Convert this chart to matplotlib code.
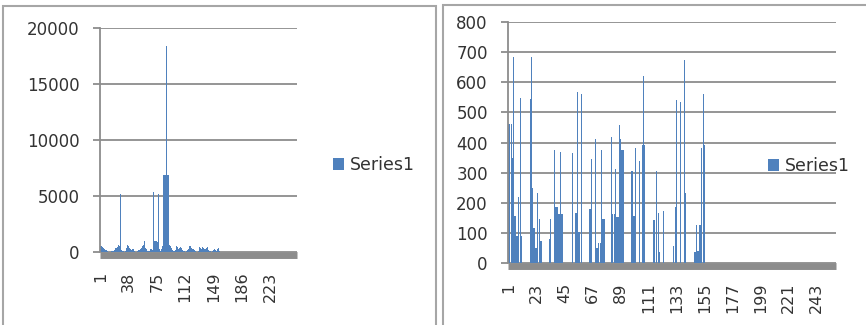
import numpy as np
import matplotlib
matplotlib.use("Agg")
import matplotlib.pyplot as plt
from matplotlib.patches import Rectangle, Patch

plt.rcParams['font.family'] = ['DejaVu Sans']

# ---- data -------------------------------------------------------------
N_CATEGORIES = 258

left_values = [
    550, 500, 480, 450,
    400, 300, 250, 200, 150,
    100, 50, 30, 0, 20, 60, 100, 80, 50,
    150, 250, 350, 400, 450, 500, 600, 550,
    5180,
    400, 200, 100, 50, 0, 30, 80,
    400, 550, 600, 500, 350,
    250, 200, 150, 250, 300,
    100, 50, 20, 0, 30, 80, 150, 200, 250,
    300, 400, 500, 600, 700,
    1000,
    400, 300, 200, 100, 50, 100, 200, 300, 250, 200, 300,
    5330,
    1000, 1000, 1000, 1000, 900,
    5180,
    300, 200, 100, 300, 500, 600,
    6850, 6850, 6850, 6850, 18400, 6850, 6850, 6850,
    600, 500, 400, 200,
    100, 50, 100, 200,
    300, 500, 450, 300, 200, 400, 450, 400, 300, 200, 100,
    50, 0, 30, 100, 200, 300,
    600, 550, 500, 400, 350,
    300, 250, 200, 100, 50, 0, 30, 100, 200,
    450, 400, 300, 350, 450, 400, 300, 200, 300, 400, 450, 350,
    200, 100, 50, 0, 0, 50, 150, 250,
    300, 200, 100, 300, 600, 400, 100, 0,
]

right_values = [
    460, 460, 460, 350, 683, 156, 90, 90, 218, 549,
    90, 0, 0, 0, 0, 0, 0, 546, 685, 250,
    115, 49, 49, 234, 145, 74, 74, 0, 0, 0,
    0, 0, 79, 146, 0, 0, 375, 187, 187, 162,
    162, 369, 162, 0, 0, 0, 0, 0, 0, 0,
    364, 0, 0, 165, 566, 104, 104, 561, 0, 0,
    0, 0, 0, 0, 180, 344, 0, 0, 412, 49,
    49, 68, 68, 375, 147, 147, 0, 0, 0, 0,
    0, 417, 162, 162, 312, 154, 154, 457, 412, 375,
    375, 0, 0, 0, 0, 0, 0, 307, 157, 157,
    381, 0, 0, 339, 0, 391, 621, 391, 0, 0,
    0, 0, 0, 0, 143, 143, 307, 0, 167, 38,
    0, 0, 171, 0, 0, 0, 0, 0, 0, 0,
    56, 187, 541, 0, 0, 535, 0, 0, 674, 234,
    0, 0, 0, 0, 0, 0, 38, 38, 125, 40,
    125, 125, 381, 561, 391,
]

left_yticks = [0, 5000, 10000, 15000, 20000]
right_yticks = [0, 100, 200, 300, 400, 500, 600, 700, 800]
left_xtick_step = 37
right_xtick_step = 22
series_name = "Series1"

# ---- styling ----------------------------------------------------------
BAR = '#4F81BD'
GRID = '#8c8c8c'
FLOOR = '#8c8c8c'
TEXT = '#333333'
W, H = 866, 325

fig = plt.figure(figsize=(W / 100, H / 100), dpi=100)
fig.patch.set_facecolor('white')


def px_axes(x0, x1, ytop, ybot):
    return fig.add_axes([x0 / W, (H - ybot) / H, (x1 - x0) / W, (ybot - ytop) / H])


def style(ax, values, yticks, step, bar_width):
    cats = np.arange(1, len(values) + 1)
    ax.bar(cats, values, width=bar_width, color=BAR, linewidth=0, zorder=2)
    ax.set_xlim(0.5, N_CATEGORIES + 0.5)
    ax.set_ylim(yticks[0], yticks[-1])
    ax.set_yticks(yticks)
    xt = np.arange(1, N_CATEGORIES + 1, step)
    ax.set_xticks(xt)
    ax.set_xticklabels([str(v) for v in xt])
    ax.set_axisbelow(True)
    ax.yaxis.grid(True, color=GRID, linewidth=1.3)
    for s in ('top', 'right'):
        ax.spines[s].set_visible(False)
    ax.spines['left'].set_color(GRID)
    ax.spines['left'].set_linewidth(1.3)
    sp = ax.spines['bottom']
    sp.set_position(('outward', 2.5))
    sp.set_linewidth(5)
    sp.set_color(FLOOR)
    sp.set_capstyle('butt')
    ax.tick_params(axis='x', length=0, pad=11.5, labelsize=11.5,
                   labelrotation=90, labelcolor=TEXT)
    ax.tick_params(axis='y', length=5, width=1.3, color=GRID, pad=9.5,
                   labelsize=12, labelcolor=TEXT, direction='out')
    ax.set_facecolor('white')


# panel frames
fig.add_artist(Rectangle((3 / W, -0.1), (436 - 3) / W, (H - 6) / H + 0.1,
                         transform=fig.transFigure, fill=False,
                         edgecolor='#a6a6a6', linewidth=1.5))
fig.add_artist(Rectangle((443 / W, -0.1), 1.0, (H - 5) / H + 0.1,
                         transform=fig.transFigure, fill=False,
                         edgecolor='#a6a6a6', linewidth=1.5))

ax1 = px_axes(100, 297, 28, 252)
style(ax1, left_values, left_yticks, left_xtick_step, 1.0)

ax2 = px_axes(508, 836, 22, 263)
style(ax2, right_values, right_yticks, right_xtick_step, 0.9)

handle = [Patch(facecolor=BAR, edgecolor='none', label=series_name)]
for ax, lx, ly in ((ax1, 333, 165), (ax2, 768, 166)):
    ax.legend(handles=handle, loc='center left',
              bbox_to_anchor=(lx / W, (H - ly) / H),
              bbox_transform=fig.transFigure, frameon=False,
              fontsize=12.5, labelcolor=TEXT, handlelength=0.65,
              handleheight=0.65, handletextpad=0.35,
              borderpad=0, borderaxespad=0)

fig.savefig('out.png', dpi=100, facecolor='white')
